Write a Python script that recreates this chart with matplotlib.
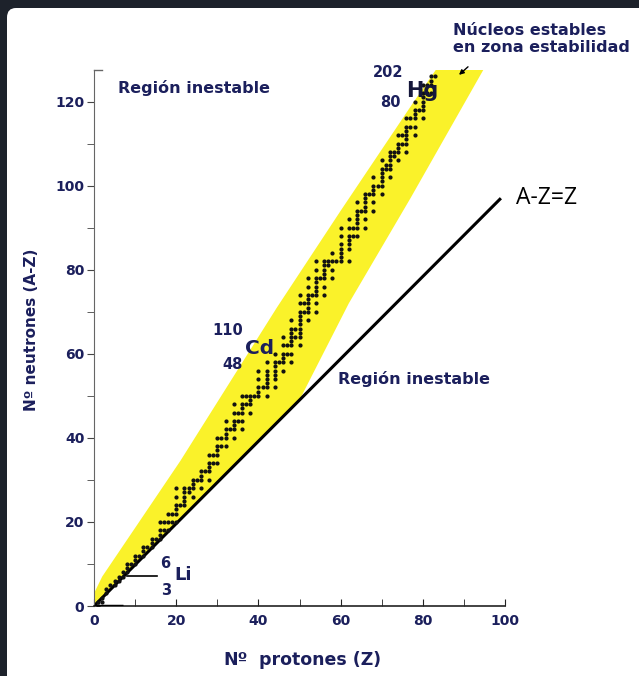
import matplotlib.pyplot as plt
from matplotlib.patches import FancyBboxPatch
from matplotlib.ticker import MultipleLocator

# stable nuclei: protons Z and the neutron numbers N found at each Z
stable_z = [1, 2, 3, 4, 5, 6, 7, 8, 9, 10, 11, 12, 13, 14, 15, 16, 17, 18, 19, 20,
            21, 22, 23, 24, 25, 26, 27, 28, 29, 30, 31, 32, 33, 34, 35, 36, 37, 38, 39, 40,
            41, 42, 44, 45, 46, 47, 48, 49, 50, 51, 52, 53, 54, 55, 56, 57, 58, 59, 60,
            62, 63, 64, 65, 66, 67, 68, 69, 70, 71, 72, 73, 74, 75, 76, 77, 78, 79, 80,
            81, 82, 83]
stable_n = [[0, 1], [1, 2], [3, 4], [5], [5, 6], [6, 7], [7, 8], [8, 9, 10], [10], [10, 11, 12],
            [12], [12, 13, 14], [14], [14, 15, 16], [16], [16, 17, 18, 20], [18, 20], [18, 20, 22],
            [20, 22], [20, 22, 23, 24, 26, 28],
            [24], [24, 25, 26, 27, 28], [27, 28], [26, 28, 29, 30], [30], [28, 30, 31, 32], [32],
            [30, 32, 33, 34, 36], [34, 36], [34, 36, 37, 38, 40], [38, 40], [38, 40, 41, 42, 44],
            [42], [40, 42, 43, 44, 46, 48], [44, 46], [42, 44, 46, 47, 48, 50], [48, 50],
            [46, 48, 49, 50], [50], [50, 51, 52, 54, 56],
            [52], [50, 52, 53, 54, 55, 56, 58], [52, 54, 55, 56, 57, 58, 60], [58],
            [56, 58, 59, 60, 62, 64], [60, 62], [58, 60, 62, 63, 64, 65, 66, 68], [64, 66],
            [62, 64, 65, 66, 67, 68, 69, 70, 72, 74], [70, 72], [68, 70, 71, 72, 73, 74, 76, 78],
            [74], [70, 72, 74, 75, 76, 77, 78, 80, 82], [78], [74, 76, 78, 79, 80, 81, 82],
            [81, 82], [78, 80, 82, 84], [82], [82, 83, 84, 85, 86, 88, 90],
            [82, 85, 86, 87, 88, 90, 92], [88, 90], [88, 90, 91, 92, 93, 94, 96], [94],
            [90, 92, 94, 95, 96, 97, 98], [98], [94, 96, 98, 99, 100, 102], [100],
            [98, 100, 101, 102, 103, 104, 106], [104, 105], [102, 104, 105, 106, 107, 108],
            [107, 108], [106, 108, 109, 110, 112], [110, 112], [108, 110, 111, 112, 113, 114, 116],
            [114, 116], [112, 114, 116, 117, 118, 120], [118], [116, 118, 119, 120, 121, 122, 124],
            [122, 124], [122, 124, 125, 126], [126]]

# stability zone (yellow band) outline
band_z = [0, 2, 21, 44.5, 60, 77.5, 83.5, 95, 77, 62, 50, 0]
band_n = [3, 7, 34.5, 71, 94, 119.5, 128, 128, 97, 72, 49, 0]

# A-Z=Z line
line_z = [0, 99]
line_n = [0, 97]

navy = '#1b1f5c'
font = 'DejaVu Sans'

fig = plt.figure(figsize=(6.39, 6.76), dpi=100)
fig.patch.set_facecolor('#1d222b')
card = FancyBboxPatch((7 / 639, -0.05), 1.1, 1.05 - 8 / 676,
                      boxstyle='round,pad=0,rounding_size=0.014',
                      transform=fig.transFigure, facecolor='white', edgecolor='none',
                      zorder=-10)
fig.patches.append(card)

ax = fig.add_axes([94 / 639, 1 - 606 / 676, (505 - 94) / 639, (606 - 70) / 676])
ax.set_xlim(0, 100)
ax.set_ylim(0, 127.5)
ax.patch.set_alpha(0)

ax.fill(band_z, band_n, color='#faf22a', lw=0, zorder=1)
ax.plot(line_z, line_n, color='black', lw=2.2, solid_capstyle='butt', zorder=2)

zs, ns = [], []
for z, nlist in zip(stable_z, stable_n):
    for n in nlist:
        zs.append(z)
        ns.append(n)
ax.plot(zs, ns, 'o', ms=2.0, color='#111111', lw=0, zorder=3)

# spines and ticks
for s in ['top', 'right']:
    ax.spines[s].set_visible(False)
ax.spines['left'].set_color('#666666')
ax.spines['bottom'].set_color('#222222')
ax.spines['bottom'].set_linewidth(1.2)
ax.xaxis.set_major_locator(MultipleLocator(20))
ax.xaxis.set_minor_locator(MultipleLocator(10))
ax.yaxis.set_major_locator(MultipleLocator(20))
ax.yaxis.set_minor_locator(MultipleLocator(10))
ax.tick_params(axis='x', which='both', direction='in', length=5, color='#222222', pad=6)
ax.tick_params(axis='y', which='both', direction='out', length=5, color='#444444', pad=2)
for lab in ax.get_xticklabels() + ax.get_yticklabels():
    lab.set_fontfamily(font)
    lab.set_fontweight('bold')
    lab.set_fontsize(10)
    lab.set_color(navy)
ax.plot([0, 2], [127.5, 127.5], color='#666666', lw=1, clip_on=False)
ax.plot([0, 7], [0, 0], color='black', lw=2.5, solid_capstyle='butt', zorder=4)

# annotations
tk = dict(fontfamily=font, fontweight='bold', color=navy)
ax.text(5.8, 123.3, 'Región inestable', fontsize=11.5, ha='left', va='center', **tk)
ax.text(59.4, 53.9, 'Región inestable', fontsize=11.5, ha='left', va='center', **tk)
ax.text(71.5, 126.8, '202', fontsize=10.5, ha='center', va='center', **tk)
ax.text(72, 119.7, '80', fontsize=10.5, ha='center', va='center', **tk)
ax.text(79.8, 122.6, 'Hg', fontsize=15, ha='center', va='center', zorder=5,
        fontfamily=font, fontweight='bold', color='#15173a')
ax.text(32.6, 65.6, '110', fontsize=10.5, ha='center', va='center', **tk)
ax.text(33.8, 57.5, '48', fontsize=10.5, ha='center', va='center', **tk)
ax.text(40.4, 61.3, 'Cd', fontsize=14.5, ha='center', va='center', **tk)
ax.text(17.3, 10.2, '6', fontsize=10.5, ha='center', va='center', **tk)
ax.text(17.5, 3.8, '3', fontsize=10.5, ha='center', va='center', **tk)
ax.text(21.7, 7.4, 'Li', fontsize=13, ha='center', va='center', **tk)
ax.plot([8, 15.3], [7.1, 7.1], color='black', lw=1.2)
ax.text(102.7, 97.1, 'A-Z=Z', fontsize=16.5, fontfamily='Open Sans', color='black',
        ha='left', va='center', clip_on=False)
ax.annotate('', xy=(88.3, 125.9), xytext=(91.5, 128.7),
            arrowprops=dict(arrowstyle='-|>', color='black', lw=1, mutation_scale=7),
            annotation_clip=False)
fig.text(453 / 639, 1 - 39 / 676, 'Núcleos estables\nen zona estabilidad',
         fontsize=11.5, ha='left', va='center', linespacing=1.2, **tk)

fig.text(248 / 639, 1 - 660 / 676, 'Nº', fontsize=12.5, ha='right', va='center', **tk)
fig.text(259 / 639, 1 - 660 / 676, 'protones (Z)', fontsize=12.5, ha='left', va='center', **tk)
fig.text(32 / 639, 1 - 330 / 676, 'Nº neutrones (A-Z)', fontsize=11,
         ha='center', va='center', rotation=90, **tk)

fig.savefig('out.png', dpi=100, facecolor=fig.get_facecolor())
